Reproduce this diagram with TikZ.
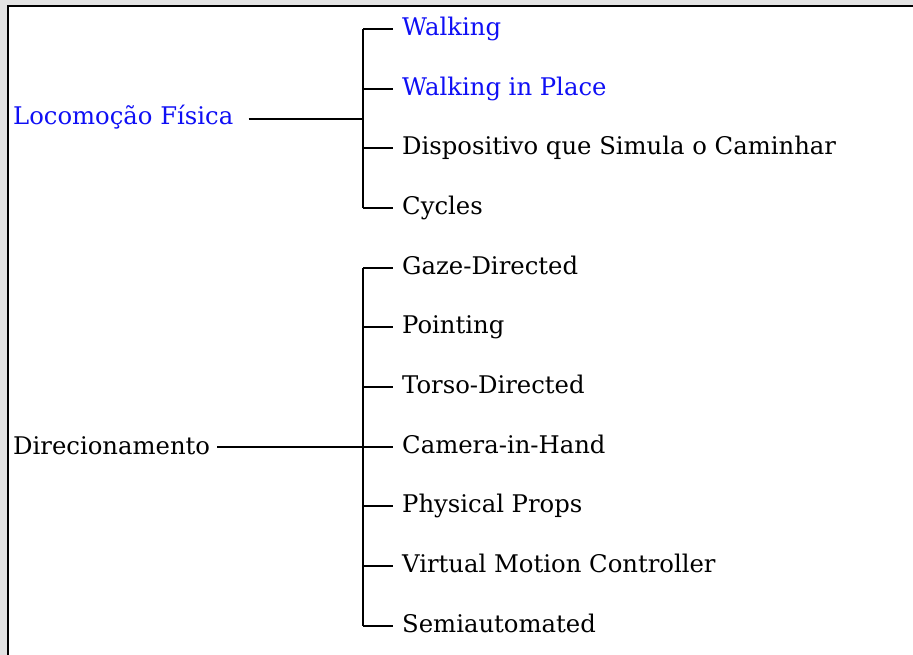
\documentclass[tikz,border=0pt]{standalone}
\usepackage{fontspec}
\setmainfont{DejaVu Serif}
\begin{document}
\begin{tikzpicture}[x=1pt,y=-1pt,
  lbl/.style={anchor=base west,inner sep=0pt,font=\fontsize{24.3}{28}\selectfont},
  blu/.style={text={rgb,255:red,15;green,15;blue,245}},
  conn/.style={line width=1.7pt}]
\useasboundingbox (0,0) rectangle (913,655);
\fill[gray!22] (0,0) rectangle (913,655);
\fill[white] (8,6) rectangle (913,655);
\draw[line width=2.4pt] (8,655) -- (8,6) -- (913,6);

% group 1
\node[lbl,blu] (loc) at (13,125) {Locomoção Física};
\coordinate (j1) at (363,119);
\coordinate (t1) at (363,29);
\coordinate (b1) at (363,208);
\draw[conn] (t1) -- (b1);
\draw[conn] ([xshift=15pt]loc.east |- j1) -- (j1);

\foreach \n/\y/\t/\s in {w/29/Walking/blu, wp/89/Walking in Place/blu,
  d/148/Dispositivo que Simula o Caminhar/, c/208/Cycles/}{
  \coordinate (a\n) at (363,\y);
  \node[lbl,\s] (\n) at (402,\y+6.5) {\t};
  \draw[conn] (a\n) -- ([xshift=-9pt]\n.west |- a\n);
}

% group 2
\node[lbl] (dir) at (13,454) {Direcionamento};
\coordinate (j2) at (363,447);
\coordinate (t2) at (363,268);
\coordinate (b2) at (363,626);
\draw[conn] (t2) -- (b2);
\draw[conn] ([xshift=7pt]dir.east |- j2) -- (j2);

\foreach \n/\y/\t in {g/268/Gaze-Directed, p/327/Pointing, to/387/Torso-Directed,
  ch/447/Camera-in-Hand, pp/506/Physical Props, v/566/Virtual Motion Controller,
  s/626/Semiautomated}{
  \coordinate (a\n) at (363,\y);
  \node[lbl] (\n) at (402,\y+6.5) {\t};
  \draw[conn] (a\n) -- ([xshift=-9pt]\n.west |- a\n);
}
\end{tikzpicture}
\end{document}
